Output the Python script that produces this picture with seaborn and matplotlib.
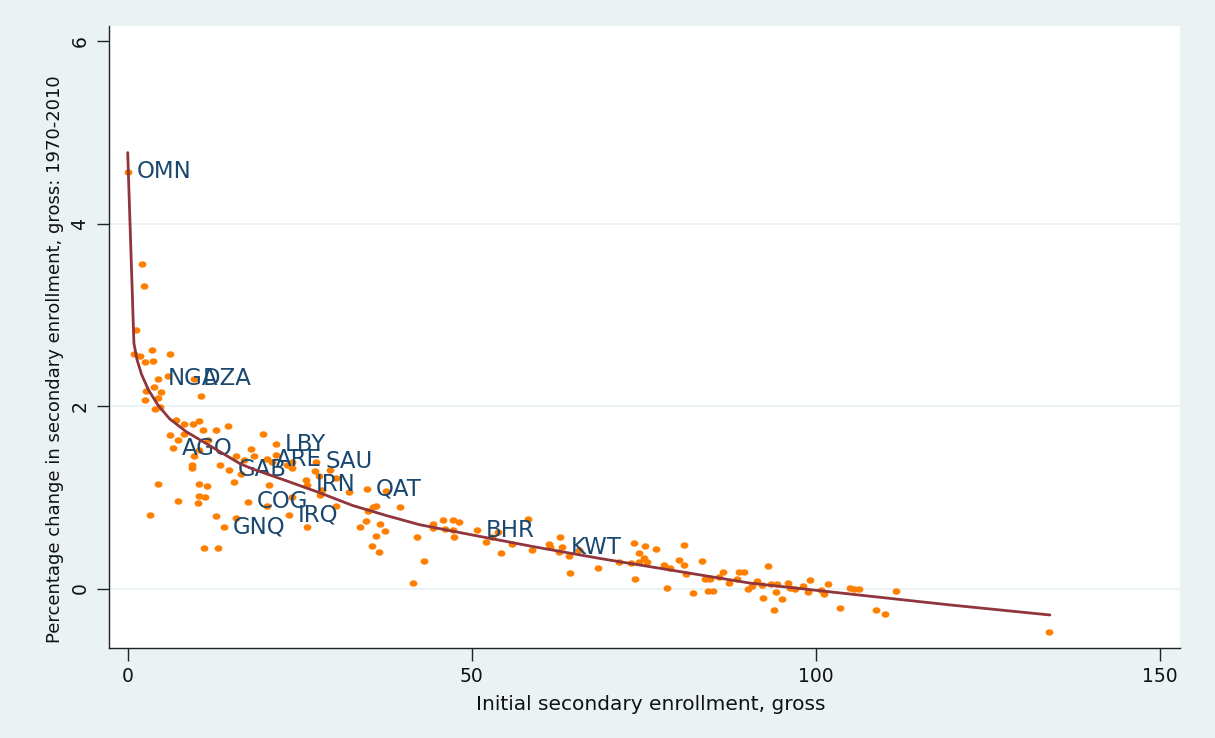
import numpy as np
import pandas as pd
import matplotlib
matplotlib.use("Agg")
import matplotlib.pyplot as plt
from matplotlib.path import Path
import seaborn as sns

# ---------------- data ----------------
# unlabeled countries: initial secondary enrollment (gross) and % change 1970-2010
pt_x = [2.03, 2.37, 1.26, 0.92, 1.74, 3.59, 6.2, 2.47, 3.68, 5.81, 3.83, 2.71, 4.84,
        2.57, 4.41, 10.6, 3.92, 4.75, 6.98, 8.14, 9.5, 10.3, 10.95, 12.8, 14.6, 19.7,
        6.2, 7.37, 8.14, 10.3, 11.7, 9.59, 9.3, 9.4, 13.4, 15.7, 16.9, 17.9, 18.3,
        21.6, 20.9, 23.1, 23.8, 23.9, 27.2, 27.8, 29.4, 30.3, 25.9, 28.2, 28.0, 32.2,
        37.6, 39.6, 36.1, 35.6, 34.9, 33.7, 34.6, 36.7, 37.4, 36.1, 35.5, 36.5, 42.1,
        16.4, 15.4, 20.5, 23.8, 20.2, 26.0, 30.3, 4.41, 7.37, 3.2, 10.3, 11.5, 10.4,
        11.2, 10.2, 12.9, 15.8, 11.1, 13.1,
        43.1, 41.4, 44.4, 44.3, 45.8, 46.1, 47.3, 48.2, 47.2, 47.4, 52.0, 52.9, 53.8,
        54.2, 55.8, 58.1, 58.8, 61.2, 61.4, 62.8, 62.7, 64.1, 64.2, 65.5, 68.3,
        71.4, 73.2, 73.5, 74.3, 75.1, 75.0, 74.3, 75.5, 73.7, 76.8, 77.9, 78.8, 78.3,
        80.1, 80.8, 80.8, 81.1, 82.2, 83.5, 83.9, 84.6, 84.3, 85.1, 85.9, 86.5, 87.4,
        88.5, 88.8, 89.6, 90.2, 90.7, 91.4, 92.1, 92.3, 93.1, 93.4, 94.2, 93.9, 95.0,
        94.4, 95.9, 96.2, 96.9, 98.1, 98.8, 99.1, 100.7, 101.1, 101.7, 103.5, 105.0,
        105.5, 106.3, 108.8, 110.0, 111.7, 133.9]
pt_y = [3.56, 3.32, 2.84, 2.57, 2.55, 2.61, 2.57, 2.48, 2.49, 2.33, 2.21, 2.17, 2.16,
        2.07, 2.09, 2.11, 1.97, 1.99, 1.85, 1.80, 1.80, 1.84, 1.74, 1.74, 1.78, 1.69,
        1.68, 1.63, 1.69, 1.52, 1.63, 1.45, 1.36, 1.32, 1.35, 1.45, 1.41, 1.53, 1.45,
        1.46, 1.39, 1.35, 1.32, 1.39, 1.29, 1.23, 1.30, 1.21, 1.19, 1.08, 1.03, 1.06,
        1.07, 0.89, 0.91, 0.89, 0.85, 0.68, 0.74, 0.71, 0.63, 0.58, 0.47, 0.40, 0.56,
        1.26, 1.17, 1.14, 1.00, 0.91, 0.68, 0.91, 1.15, 0.96, 0.81, 1.15, 1.12, 1.02,
        1.00, 0.94, 0.79, 0.77, 0.44, 0.44,
        0.30, 0.06, 0.71, 0.66, 0.75, 0.65, 0.75, 0.73, 0.64, 0.56, 0.51, 0.56, 0.62,
        0.39, 0.49, 0.76, 0.42, 0.49, 0.46, 0.57, 0.40, 0.36, 0.17, 0.42, 0.22,
        0.29, 0.28, 0.50, 0.39, 0.47, 0.34, 0.29, 0.29, 0.10, 0.43, 0.26, 0.22, 0.01,
        0.31, 0.48, 0.26, 0.16, -0.05, 0.30, 0.10, 0.10, -0.03, -0.03, 0.13, 0.18, 0.06,
        0.11, 0.18, 0.18, 0.00, 0.03, 0.08, 0.04, -0.10, 0.25, 0.05, -0.04, -0.23, -0.11,
        0.05, 0.06, 0.01, -0.01, 0.03, -0.04, 0.09, -0.02, -0.06, 0.05, -0.21, 0.01,
        -0.01, 0.00, -0.23, -0.28, -0.03, -0.48]

# labeled countries
lab_names = ["OMN", "NGA", "DZA", "AGO", "LBY", "ARE", "SAU", "GAB", "IRN", "QAT",
             "COG", "IRQ", "GNQ", "BHR", "KWT"]
lab_x = [0.0, 4.46, 9.59, 6.59, 21.5, 20.2, 27.4, 14.7, 26.0, 34.8,
         17.5, 23.4, 14.0, 50.7, 63.1]
lab_y = [4.57, 2.30, 2.30, 1.54, 1.58, 1.42, 1.39, 1.30, 1.14, 1.09,
         0.95, 0.81, 0.67, 0.64, 0.45]

# fitted curve
fit_x = [0.0, 0.9, 1.35, 2.0, 3.0, 4.4, 6.1, 8.5, 11.4, 13.4, 16.3, 18.2, 23.1, 27.9,
         32.7, 37.6, 42.4, 49.2, 58.9, 68.6, 80.7, 90.4, 100.1, 112.2, 119.5, 134.0]
fit_y = [4.78, 2.69, 2.51, 2.35, 2.18, 2.01, 1.86, 1.72, 1.59, 1.50, 1.37, 1.31, 1.18,
         1.05, 0.91, 0.80, 0.70, 0.60, 0.46, 0.33, 0.18, 0.06, -0.02, -0.12, -0.18, -0.29]

x_ticks = [0, 50, 100, 150]
y_ticks = [0, 2, 4, 6]
grid_y = [0, 2, 4]
x_title = "Initial secondary enrollment, gross"
y_title = "Percentage change in secondary enrollment, gross: 1970-2010"

# ---------------- style ----------------
BG = "#EAF2F3"
ORANGE = "#FF8000"
LINE = "#90353B"
NAVY = "#1A476F"

sns.set_theme(style="white")
plt.rcParams["font.family"] = ["DejaVu Sans"]

fig = plt.figure(figsize=(12.15, 7.38), dpi=100, facecolor=BG)
ax = fig.add_axes([109 / 1215, 1 - 648 / 738, 1071 / 1215, 622 / 738])
ax.set_facecolor("white")

df_pts = pd.DataFrame({"x": pt_x + lab_x, "y": pt_y + lab_y})
df_fit = pd.DataFrame({"x": fit_x, "y": fit_y})

# slightly wide elliptical marker (reference dots are horizontally stretched)
t = np.linspace(0, 2 * np.pi, 40)
ell = Path(np.column_stack([0.5 * np.cos(t), 0.41 * np.sin(t)]), closed=True)

for yt in grid_y:
    ax.axhline(yt, color=BG, lw=1.3, zorder=0.5)

sns.scatterplot(data=df_pts, x="x", y="y", ax=ax, color=ORANGE, marker=ell,
                s=32, linewidth=0, zorder=2)
for name, lx, ly in zip(lab_names, lab_x, lab_y):
    ax.annotate(name, (lx, ly), xytext=(6.5, 0), textcoords="offset points",
                ha="left", va="center", color=NAVY, fontsize=16.5, zorder=3)
sns.lineplot(data=df_fit, x="x", y="y", ax=ax, color=LINE, lw=2.0,
             estimator=None, sort=False, zorder=4)

ax.set_xlim(-2.72, 152.9)
ax.set_ylim(-0.652, 6.168)
ax.set_xticks(x_ticks)
ax.set_yticks(y_ticks)
ax.grid(False)

for s in ["top", "right"]:
    ax.spines[s].set_visible(False)
for s in ["left", "bottom"]:
    ax.spines[s].set_color("#222222")
    ax.spines[s].set_linewidth(1.0)

ax.tick_params(axis="both", which="major", direction="out", length=9, width=1.0,
               color="#222222", labelsize=13.5, labelcolor="#111111", pad=5,
               bottom=True, left=True)
ax.tick_params(axis="y", labelrotation=90)
for lab in ax.get_yticklabels():
    lab.set_va("center")

ax.set_xlabel(x_title, fontsize=14.5, color="#111111")
ax.set_ylabel(y_title, fontsize=13, color="#111111")
ax.xaxis.label.set_va("center")
ax.xaxis.set_label_coords(0.5056, -(705 - 648) / 622)
ax.yaxis.label.set_va("center")
ax.yaxis.set_label_coords((55 - 109) / 1071, (648 - 359) / 622)

fig.savefig("out.png", dpi=100, facecolor=BG)
